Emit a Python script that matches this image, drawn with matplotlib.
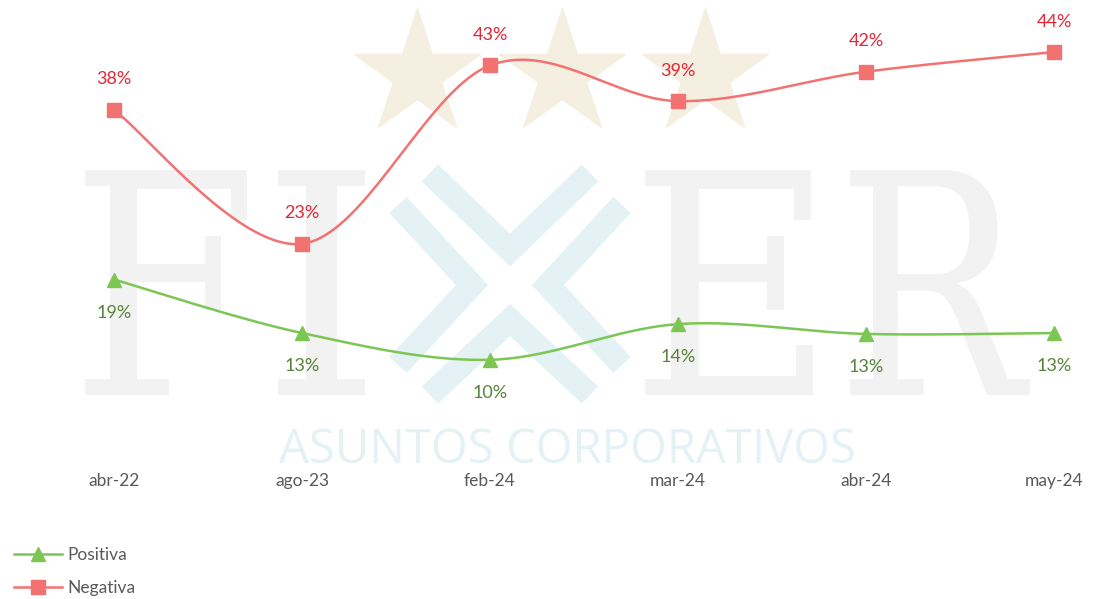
import numpy as np
import matplotlib
matplotlib.use("Agg")
import matplotlib.pyplot as plt
from matplotlib.lines import Line2D
from matplotlib.textpath import TextPath
from matplotlib.patches import PathPatch
from matplotlib.font_manager import FontProperties
from matplotlib.transforms import Affine2D

categories = ["abr-22", "ago-23", "feb-24", "mar-24", "abr-24", "may-24"]
positiva = [19, 13, 10, 14, 12.9, 13]
negativa = [38, 23, 43, 39, 42.3, 44.5]
pos_labels = ["19%", "13%", "10%", "14%", "13%", "13%"]
neg_labels = ["38%", "23%", "43%", "39%", "42%", "44%"]

plt.rcParams['font.family'] = ['Lato', 'DejaVu Sans']

W, H = 1094, 599
fig = plt.figure(figsize=(W / 100, H / 100), dpi=100)
fig.patch.set_facecolor("white")

# --- watermark (decorative background, figure pixel coords from top-left) ---
wm_gray = "#f2f2f2"
wm_cyan = "#e4f2f5"
wm_beige = "#f5efe2"
pix = Affine2D().scale(1 / W, -1 / H).translate(0, 1) + fig.transFigure

for cx in (417, 562, 705):
    fig.add_artist(Line2D([cx], [74], marker='*', markersize=95,
                          color=wm_beige, transform=pix, zorder=-5))

fp = FontProperties(family="DejaVu Serif", weight="normal")
for ch, (x0, x1) in zip("FIER", [(85, 247), (278, 365), (645, 813), (850, 1030)]):
    tp = TextPath((0, 0), ch, size=100, prop=fp)
    ext = tp.get_extents()
    sx = (x1 - x0) / ext.width
    sy = (395 - 170) / ext.height
    tr = Affine2D().translate(-ext.x0, -ext.y1).scale(sx, -sy).translate(x0, 170)
    fig.add_artist(PathPatch(tr.transform_path(tp), facecolor=wm_gray,
                             edgecolor="none", transform=pix, zorder=-5))

chevrons = [
    [(430, 173), (510, 250), (590, 173)],
    [(430, 395), (510, 320), (590, 395)],
    [(398, 205), (472, 285), (398, 365)],
    [(622, 205), (548, 285), (622, 365)],
]
for ch in chevrons:
    xs, ys = zip(*ch)
    fig.add_artist(Line2D(xs, ys, color=wm_cyan, lw=17, solid_joinstyle="miter",
                          solid_capstyle="butt", transform=pix, zorder=-5))

fig.text(568 / W, 1 - 450 / H, "ASUNTOS CORPORATIVOS", fontsize=34,
         color=wm_cyan, ha="center", va="center", zorder=-5, family="Open Sans")

ax = fig.add_axes([0, (H - 449) / H, 1, (449 - 3) / H])
ax.set_facecolor("none")
ax.set_zorder(1)
ax.set_xlim(-114 / 188, (W - 114) / 188)
ax.set_ylim(0, 50)
for s in ax.spines.values():
    s.set_visible(False)
ax.set_yticks([])
ax.set_xticks([])

x = np.arange(len(categories))


def smooth(xs, ys, n=40):
    xs = np.asarray(xs, float)
    ys = np.asarray(ys, float)
    P = np.column_stack([xs, ys])
    P = np.vstack([P[0], P, P[-1]])
    out = []
    for i in range(1, len(P) - 2):
        p0, p1, p2, p3 = P[i - 1], P[i], P[i + 1], P[i + 2]
        c1 = p1 + (p2 - p0) / 6
        c2 = p2 - (p3 - p1) / 6
        t = np.linspace(0, 1, n)[:, None]
        seg = ((1 - t) ** 3) * p1 + 3 * ((1 - t) ** 2) * t * c1 + 3 * (1 - t) * t ** 2 * c2 + t ** 3 * p2
        out.append(seg if i == 1 else seg[1:])
    out = np.vstack(out)
    return out[:, 0], out[:, 1]


green = "#7cc653"
red = "#f27272"
sx, sy = smooth(x, positiva)
ax.plot(sx, sy, color=green, lw=1.8, zorder=3)
ax.plot(x, positiva, ls="none", marker="^", ms=10, color=green, zorder=4)
sx, sy = smooth(x, negativa)
ax.plot(sx, sy, color=red, lw=1.8, zorder=3)
ax.plot(x, negativa, ls="none", marker="s", ms=9.5, color=red, zorder=4)

for xi, v, lab in zip(x, negativa, neg_labels):
    ax.annotate(lab, (xi, v), xytext=(0, 22), textcoords="offset points",
                ha="center", va="center", fontsize=13, color="#e32636", zorder=5)
for xi, v, lab in zip(x, positiva, pos_labels):
    ax.annotate(lab, (xi, v), xytext=(0, -24), textcoords="offset points",
                ha="center", va="center", fontsize=13, color="#55833a", zorder=5)

for xi, c in zip(x, categories):
    ax.annotate(c, (xi, 0), xytext=(0, -23), textcoords="offset points",
                ha="center", va="center", fontsize=12.5, color="#595959",
                annotation_clip=False)

# legend
handles = [Line2D([], [], color=green, marker="^", ms=10, lw=1.8),
           Line2D([], [], color=red, marker="s", ms=9.5, lw=1.8)]
fig.legend(handles, ["Positiva", "Negativa"], loc="upper left",
           bbox_to_anchor=(0.003, 1 - 537 / H), frameon=False, fontsize=12.5,
           labelcolor="#595959", handlelength=2.8, handletextpad=0.3,
           labelspacing=0.95, borderaxespad=0.2)

fig.savefig("out.png", dpi=100, facecolor="white")
